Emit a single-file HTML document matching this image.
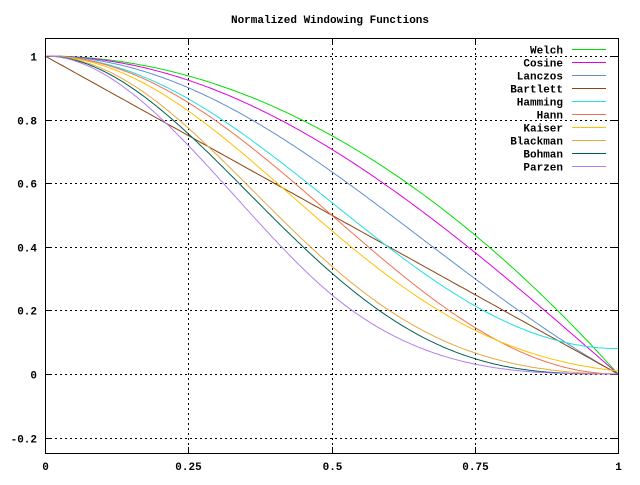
<!DOCTYPE html>
<html><head><meta charset="utf-8"><style>
body{margin:0;background:#fff}
svg text{font-family:"Liberation Mono",monospace;font-weight:bold;font-size:11px;fill:#000}
</style></head><body>
<svg id="s" width="640" height="480" xmlns="http://www.w3.org/2000/svg">
<rect width="640" height="480" fill="#fff"/>
<text x="330" y="23" text-anchor="middle">Normalized Windowing Functions</text>
<g id="grid" stroke="#000" stroke-width="1" stroke-dasharray="2,3"></g>
<g id="lab"></g>
<g id="curves" fill="none" stroke-width="1"></g>
<g id="leg"></g>
<rect x="45.5" y="38.5" width="573" height="415" fill="none" stroke="#000"/>
</svg>
<script>
const X0=45,X1=618,Y0=374,YS=318;
const px=x=>X0+x*(X1-X0), py=y=>Y0-y*YS;
const ns="http://www.w3.org/2000/svg";
function el(p,t,a,txt){const e=document.createElementNS(ns,t);for(const k in a)e.setAttribute(k,a[k]);if(txt!==undefined)e.textContent=txt;document.getElementById(p).appendChild(e);}
const yt=[1,0.8,0.6,0.4,0.2,0,-0.2];
yt.forEach(v=>{const y=Math.round(py(v))+0.5;el("grid","line",{x1:45,x2:618,y1:y,y2:y});
el("lab","line",{x1:45,x2:51,y1:y,y2:y,stroke:"#000"});el("lab","line",{x1:612,x2:618,y1:y,y2:y,stroke:"#000"});
el("lab","text",{x:37,y:y+4,"text-anchor":"end"},v==0?"0":String(v).replace("0.","0."));});
[0,0.25,0.5,0.75,1].forEach(v=>{const x=Math.round(px(v))+0.5;if(v>0&&v<1)el("grid","line",{x1:x,x2:x,y1:38,y2:453});
el("lab","line",{x1:x,x2:x,y1:447,y2:453,stroke:"#000"});el("lab","line",{x1:x,x2:x,y1:38,y2:44,stroke:"#000"});
el("lab","text",{x:x,y:470,"text-anchor":"middle"},String(v));});
function I0(z){let s=1,t=1;for(let k=1;k<40;k++){t*=(z/2/k)*(z/2/k);s+=t;}return s;}
const P=Math.PI;
const F=[
["Welch","#00e000",x=>1-x*x],
["Cosine","#e000e0",x=>Math.cos(P*x/2)],
["Lanczos","#6090d0",x=>x==0?1:Math.sin(P*x)/(P*x)],
["Bartlett","#8b4513",x=>1-x],
["Hamming","#20e0e0",x=>0.54+0.46*Math.cos(P*x)],
["Hann","#f07050",x=>0.5+0.5*Math.cos(P*x)],
["Kaiser","#ffc000",x=>I0(6.5*Math.sqrt(Math.max(0,1-x*x)))/I0(6.5)],
["Blackman","#e8a840",x=>0.42+0.5*Math.cos(P*x)+0.08*Math.cos(2*P*x)],
["Bohman","#006050",x=>(1-x)*Math.cos(P*x)+Math.sin(P*x)/P],
["Parzen","#b080f0",x=>x<=0.5?1-6*x*x+6*x*x*x:2*Math.pow(1-x,3)]];
F.forEach((f,i)=>{let pts=[];for(let k=0;k<=200;k++){const x=k/200;pts.push(px(x).toFixed(1)+","+py(f[2](x)).toFixed(1));}
el("curves","polyline",{points:pts.join(" "),stroke:f[1]});
const y=49.5+i*13;el("leg","text",{x:563,y:y+4,"text-anchor":"end"},f[0]);
el("leg","line",{x1:572,x2:606,y1:y,y2:y,stroke:f[1]});});
</script>
</body></html>
